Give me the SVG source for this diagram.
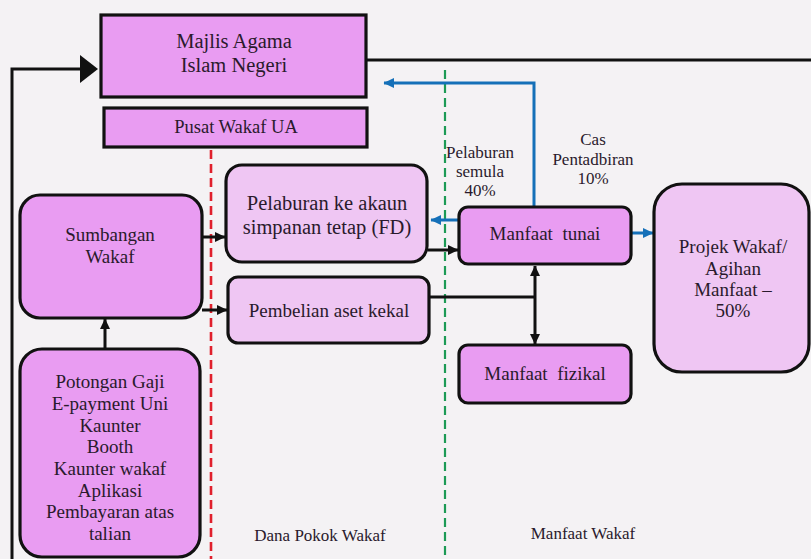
<svg xmlns="http://www.w3.org/2000/svg" width="811" height="559" viewBox="0 0 811 559">
<defs>
<style>
text{font-family:"Liberation Serif","Times New Roman",serif;fill:#2a1a2c;text-anchor:middle}
.bx{stroke:#111;stroke-width:3.2}
.v{fill:#e99cf2}
.p{fill:#efc6f3}
.c{fill:none;stroke:#111;stroke-width:3}
.b{fill:none;stroke:#1570b8;stroke-width:3}
.t19{font-size:19px}
.t20{font-size:20.5px}
.t17{font-size:17px}
</style>
<marker id="ak" markerUnits="userSpaceOnUse" markerWidth="11" markerHeight="11" refX="10" refY="5.5" orient="auto-start-reverse" viewBox="0 0 11 11">
<path d="M0,0.5 L10.5,5.5 L0,10.5 z" fill="#111"/>
</marker>
<marker id="ab" markerUnits="userSpaceOnUse" markerWidth="11" markerHeight="11" refX="10" refY="5.5" orient="auto" viewBox="0 0 11 11">
<path d="M0,0.5 L10.5,5.5 L0,10.5 z" fill="#1570b8"/>
</marker>
</defs>
<rect width="811" height="559" fill="#f4f2f4"/>

<g id="dividers">
<line x1="211" y1="150" x2="211" y2="559" stroke="#e0202c" stroke-width="2.6" stroke-dasharray="9,5"/>
<line x1="445" y1="70" x2="445" y2="559" stroke="#1c9a55" stroke-width="2.2" stroke-dasharray="9,5"/>
</g>

<g id="connectors">
<polyline class="c" points="12,559 12,69 82,69"/>
<polygon points="80,55 98,69 80,83" fill="#111"/>
<line class="c" x1="366" y1="60" x2="811" y2="60"/>
<polyline class="b" points="534,207 534,83 384,83" marker-end="url(#ab)"/>
<line class="b" x1="459" y1="220" x2="431" y2="220" marker-end="url(#ab)"/>
<line class="b" x1="631" y1="233" x2="653" y2="233" marker-end="url(#ab)"/>
<line class="c" x1="202" y1="237" x2="225" y2="237" marker-end="url(#ak)"/>
<line class="c" x1="202" y1="310" x2="227" y2="310" marker-end="url(#ak)"/>
<line class="c" x1="105" y1="348" x2="105" y2="319" marker-end="url(#ak)"/>
<line class="c" x1="428" y1="250" x2="458" y2="250" marker-end="url(#ak)"/>
<line class="c" x1="430" y1="297" x2="535" y2="297"/>
<line class="c" x1="535" y1="266" x2="535" y2="344" marker-start="url(#ak)" marker-end="url(#ak)"/>
</g>

<g id="majlis">
<rect class="bx v" x="101" y="15" width="265" height="82"/>
<text class="t20" x="234" y="48">Majlis Agama</text>
<text class="t20" x="234" y="72">Islam Negeri</text>
</g>

<g id="pusat">
<rect class="bx v" x="104" y="108" width="263" height="39"/>
<text x="236" y="133" style="font-size:18.5px">Pusat Wakaf UA</text>
</g>

<g id="sumbangan">
<rect class="bx v" x="20" y="195" width="182" height="123" rx="20"/>
<text class="t19" x="110" y="241">Sumbangan</text>
<text class="t19" x="110" y="263">Wakaf</text>
</g>

<g id="potongan">
<rect class="bx v" x="20" y="349" width="180" height="208" rx="22"/>
<text class="t19" x="110" y="388">Potongan Gaji</text>
<text class="t19" x="110" y="410">E-payment Uni</text>
<text class="t19" x="110" y="432">Kaunter</text>
<text class="t19" x="110" y="453">Booth</text>
<text class="t19" x="110" y="475">Kaunter wakaf</text>
<text class="t19" x="110" y="497">Aplikasi</text>
<text class="t19" x="110" y="518">Pembayaran atas</text>
<text class="t19" x="110" y="540">talian</text>
</g>

<g id="pelaburan">
<rect class="bx p" x="226" y="165" width="201" height="97" rx="16"/>
<text class="t20" x="327" y="210">Pelaburan ke akaun</text>
<text class="t20" x="327" y="234">simpanan tetap (FD)</text>
</g>

<g id="pembelian">
<rect class="bx p" x="228" y="277" width="201" height="66" rx="10"/>
<text class="t19" x="329" y="317">Pembelian aset kekal</text>
</g>

<g id="manfaat-tunai">
<rect class="bx v" x="459" y="207" width="172" height="57" rx="9"/>
<text class="t19" x="545" y="240" xml:space="preserve">Manfaat  tunai</text>
</g>

<g id="manfaat-fizikal">
<rect class="bx v" x="459" y="345" width="172" height="58" rx="9"/>
<text class="t19" x="545" y="380" xml:space="preserve">Manfaat  fizikal</text>
</g>

<g id="projek">
<rect class="bx p" x="654" y="184" width="155" height="188" rx="28"/>
<text class="t19" x="733" y="253">Projek Wakaf/</text>
<text class="t19" x="733" y="275">Agihan</text>
<text class="t19" x="733" y="296">Manfaat –</text>
<text class="t19" x="733" y="317">50%</text>
</g>

<g id="labels">
<text class="t17" x="480" y="158">Pelaburan</text>
<text class="t17" x="480" y="177">semula</text>
<text class="t17" x="480" y="196">40%</text>
<text class="t17" x="593" y="145">Cas</text>
<text class="t17" x="593" y="165">Pentadbiran</text>
<text class="t17" x="593" y="184">10%</text>
<text class="t17" x="320" y="541">Dana Pokok Wakaf</text>
<text class="t17" x="583" y="539">Manfaat Wakaf</text>
</g>
</svg>
